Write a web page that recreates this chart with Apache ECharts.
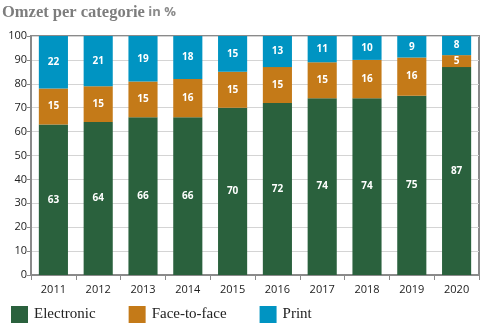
<!DOCTYPE html>
<html>
<head>
<meta charset="utf-8">
<script src="https://cdn.jsdelivr.net/npm/echarts@6/dist/echarts.min.js"></script>
<style>
  html, body { margin: 0; padding: 0; background: #fff; }
  #chart { width: 486px; height: 330px; }
</style>
</head>
<body>
<div id="chart"></div>
<script>
// Revenue share per category, in percent
const years = ['2011', '2012', '2013', '2014', '2015', '2016', '2017', '2018', '2019', '2020'];
const electronic = [63, 64, 66, 66, 70, 72, 74, 74, 75, 87];
const faceToFace = [15, 15, 15, 16, 15, 15, 15, 16, 16, 5];
const print = [22, 21, 19, 18, 15, 13, 11, 10, 9, 8];
const yTicks = [0, 10, 20, 30, 40, 50, 60, 70, 80, 90, 100];

const colors = { electronic: '#2a613d', face: '#c47a18', print: '#0094c2' };

const labelStyle = {
  show: true,
  position: 'inside',
  color: '#fff',
  fontFamily: 'Open Sans',
  fontWeight: 'bold',
  fontSize: 10
};

function series(name, data, color) {
  return {
    name: name,
    type: 'bar',
    stack: 'total',
    data: data,
    barWidth: '65%',
    itemStyle: { color: color },
    label: labelStyle
  };
}

const chart = echarts.init(document.getElementById('chart'), null, { renderer: 'canvas' });
chart.setOption({
  animation: false,
  title: {
    left: 2,
    top: 4,
    padding: 0,
    text: '{a|Omzet per categorie}{b| in %}',
    textStyle: {
      rich: {
        a: { fontFamily: 'Liberation Serif', fontWeight: 'bold', fontSize: 16.5, color: '#7d7d7d' },
        b: { fontFamily: 'Open Sans', fontSize: 13, color: '#8a8a8a' }
      }
    }
  },
  grid: {
    left: 31, right: 7, top: 36, bottom: 55,
    show: true,
    borderColor: '#8a8a8a',
    borderWidth: 2,
    backgroundColor: 'transparent'
  },
  legend: {
    left: 11,
    top: 306,
    padding: 0,
    itemWidth: 17,
    itemHeight: 17,
    itemGap: 33,
    icon: 'rect',
    textStyle: { fontFamily: 'Liberation Serif', fontSize: 15, color: '#222', padding: [0, 0, 0, 1] },
    data: ['Electronic', 'Face-to-face', 'Print']
  },
  xAxis: {
    type: 'category',
    data: years,
    axisLine: { show: true, lineStyle: { color: '#8a8a8a', width: 2 } },
    axisTick: { show: true, length: 5, lineStyle: { color: '#8a8a8a', width: 1 } },
    axisLabel: { color: '#222', fontFamily: 'Open Sans', fontSize: 11, margin: 9 }
  },
  yAxis: {
    type: 'value',
    min: yTicks[0],
    max: yTicks[yTicks.length - 1],
    interval: yTicks[1] - yTicks[0],
    axisLine: { show: true, lineStyle: { color: '#8a8a8a', width: 2 } },
    axisTick: { show: true, length: 4, lineStyle: { color: '#8a8a8a' } },
    axisLabel: { color: '#222', fontFamily: 'Open Sans', fontSize: 11, margin: 4 },
    splitLine: { show: true, lineStyle: { color: '#d4d4d4', width: 1 } }
  },
  series: [
    series('Electronic', electronic, colors.electronic),
    series('Face-to-face', faceToFace, colors.face),
    series('Print', print, colors.print)
  ]
});
</script>
</body>
</html>
